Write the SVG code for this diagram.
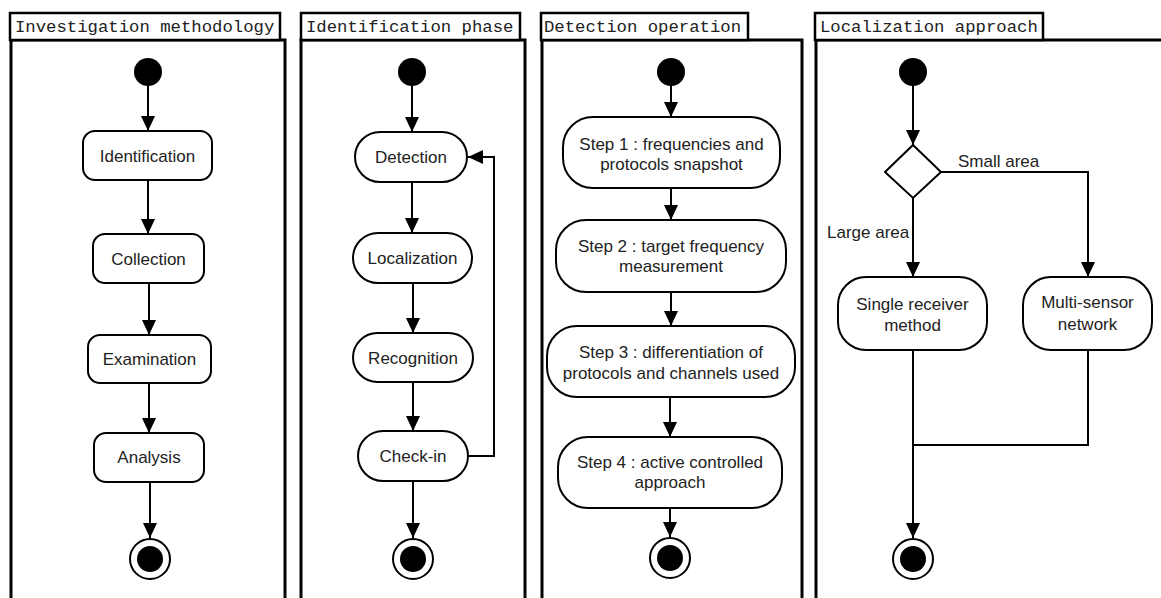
<svg xmlns="http://www.w3.org/2000/svg" width="1161" height="598" viewBox="0 0 1161 598">
<style>
.frame{fill:#fff;stroke:#000;stroke-width:3}
.tbox{fill:#fff;stroke:#000;stroke-width:2.5}
.title{font-family:"Liberation Mono","Courier New",monospace;font-size:17.3px;fill:#222}
.node{fill:#fff;stroke:#000;stroke-width:2}
.lbl{font-family:"Liberation Sans",Arial,sans-serif;font-size:17px;fill:#222;text-anchor:middle}
.elbl{font-family:"Liberation Sans",Arial,sans-serif;font-size:17px;fill:#222}
.start{fill:#000}
.endo{fill:#fff;stroke:#000;stroke-width:2}
.edge{fill:none;stroke:#000;stroke-width:2}
</style>
<defs>
<marker id="arr" markerUnits="userSpaceOnUse" markerWidth="16" markerHeight="16" refX="15" refY="7" orient="auto">
<path d="M0,0 L15,7 L0,14 z" fill="#000"/>
</marker>
</defs>
<rect width="1161" height="598" fill="#fff"/>

<!-- Panels -->
<g id="panel1">
<rect class="frame" x="11" y="40" width="274" height="580"/>
<rect class="tbox" x="10" y="13" width="270" height="27"/>
<text class="title" x="15" y="32">Investigation methodology</text>
</g>
<g id="panel2">
<rect class="frame" x="301" y="40" width="224" height="580"/>
<rect class="tbox" x="301" y="13" width="219" height="27"/>
<text class="title" x="306" y="32">Identification phase</text>
</g>
<g id="panel3">
<rect class="frame" x="542" y="40" width="260" height="580"/>
<rect class="tbox" x="541" y="13" width="207" height="27"/>
<text class="title" x="544" y="32">Detection operation</text>
</g>
<g id="panel4">
<rect class="frame" x="816" y="40" width="360" height="580"/>
<rect class="tbox" x="815" y="13" width="228" height="27"/>
<text class="title" x="820" y="32">Localization approach</text>
</g>

<!-- Connectors -->
<g id="connectors">
<path class="edge" d="M148,86 V131" marker-end="url(#arr)"/>
<path class="edge" d="M148,180 V234" marker-end="url(#arr)"/>
<path class="edge" d="M149,283 V335" marker-end="url(#arr)"/>
<path class="edge" d="M149,383 V433" marker-end="url(#arr)"/>
<path class="edge" d="M150,482 V538" marker-end="url(#arr)"/>

<path class="edge" d="M412,86 V132" marker-end="url(#arr)"/>
<path class="edge" d="M412,182 V233" marker-end="url(#arr)"/>
<path class="edge" d="M413,283 V333" marker-end="url(#arr)"/>
<path class="edge" d="M413,382 V431" marker-end="url(#arr)"/>
<path class="edge" d="M413,481 V538" marker-end="url(#arr)"/>
<path class="edge" d="M468,456 H494 V157 H468" marker-end="url(#arr)"/>

<path class="edge" d="M671,86 V117" marker-end="url(#arr)"/>
<path class="edge" d="M671,188 V220" marker-end="url(#arr)"/>
<path class="edge" d="M671,292 V326" marker-end="url(#arr)"/>
<path class="edge" d="M670,397 V437" marker-end="url(#arr)"/>
<path class="edge" d="M670,508 V537" marker-end="url(#arr)"/>

<path class="edge" d="M913,86 V145" marker-end="url(#arr)"/>
<path class="edge" d="M941,172 H1088 V277" marker-end="url(#arr)"/>
<path class="edge" d="M913,198 V277" marker-end="url(#arr)"/>
<path class="edge" d="M1088,350 V445 H913"/>
<path class="edge" d="M913,350 V538" marker-end="url(#arr)"/>
<text class="elbl" x="958" y="167">Small area</text>
<text class="elbl" x="827" y="238">Large area</text>
</g>

<!-- Panel 1 nodes -->
<g id="p1-start"><circle class="start" cx="148" cy="72" r="14"/></g>
<g id="p1-identification"><rect class="node" x="83" y="131" width="129" height="49" rx="12"/><text class="lbl" x="147.5" y="162">Identification</text></g>
<g id="p1-collection"><rect class="node" x="93" y="234" width="111" height="49" rx="12"/><text class="lbl" x="148.5" y="265">Collection</text></g>
<g id="p1-examination"><rect class="node" x="88" y="335" width="123" height="48" rx="12"/><text class="lbl" x="149.5" y="365">Examination</text></g>
<g id="p1-analysis"><rect class="node" x="94" y="433" width="110" height="49" rx="12"/><text class="lbl" x="149" y="463">Analysis</text></g>
<g id="p1-end"><circle class="endo" cx="150" cy="559" r="20"/><circle class="start" cx="150" cy="559" r="13"/></g>

<!-- Panel 2 nodes -->
<g id="p2-start"><circle class="start" cx="412" cy="72" r="14"/></g>
<g id="p2-detection"><rect class="node" x="355" y="132" width="112" height="50" rx="25"/><text class="lbl" x="411" y="163">Detection</text></g>
<g id="p2-localization"><rect class="node" x="353" y="233" width="119" height="50" rx="25"/><text class="lbl" x="412.5" y="264">Localization</text></g>
<g id="p2-recognition"><rect class="node" x="353" y="333" width="120" height="49" rx="24.5"/><text class="lbl" x="413" y="364">Recognition</text></g>
<g id="p2-checkin"><rect class="node" x="358" y="431" width="110" height="50" rx="25"/><text class="lbl" x="413" y="462">Check-in</text></g>
<g id="p2-end"><circle class="endo" cx="413" cy="559" r="20"/><circle class="start" cx="413" cy="559" r="13"/></g>

<!-- Panel 3 nodes -->
<g id="p3-start"><circle class="start" cx="671" cy="72" r="14"/></g>
<g id="p3-step1"><rect class="node" x="563" y="117" width="217" height="71" rx="30"/><text class="lbl" x="671.5" y="150">Step 1 : frequencies and</text><text class="lbl" x="671.5" y="170">protocols snapshot</text></g>
<g id="p3-step2"><rect class="node" x="556" y="220" width="230" height="72" rx="30"/><text class="lbl" x="671" y="252">Step 2 : target frequency</text><text class="lbl" x="671" y="272">measurement</text></g>
<g id="p3-step3"><rect class="node" x="547" y="326" width="248" height="71" rx="30"/><text class="lbl" x="671" y="358">Step 3 : differentiation of</text><text class="lbl" x="671" y="379">protocols and channels used</text></g>
<g id="p3-step4"><rect class="node" x="558" y="437" width="224" height="71" rx="30"/><text class="lbl" x="670" y="468">Step 4 : active controlled</text><text class="lbl" x="670" y="488">approach</text></g>
<g id="p3-end"><circle class="endo" cx="670" cy="558" r="20"/><circle class="start" cx="670" cy="558" r="13"/></g>

<!-- Panel 4 nodes -->
<g id="p4-start"><circle class="start" cx="913" cy="72" r="14"/></g>
<g id="p4-decision"><polygon class="node" points="913,145 941,172 913,198 885,172"/></g>
<g id="p4-single"><rect class="node" x="838" y="277" width="149" height="73" rx="28"/><text class="lbl" x="912.5" y="310">Single receiver</text><text class="lbl" x="912.5" y="331">method</text></g>
<g id="p4-multi"><rect class="node" x="1023" y="277" width="129" height="73" rx="28"/><text class="lbl" x="1087.5" y="308">Multi-sensor</text><text class="lbl" x="1087.5" y="330">network</text></g>
<g id="p4-end"><circle class="endo" cx="913" cy="559" r="20"/><circle class="start" cx="913" cy="559" r="13"/></g>
</svg>
